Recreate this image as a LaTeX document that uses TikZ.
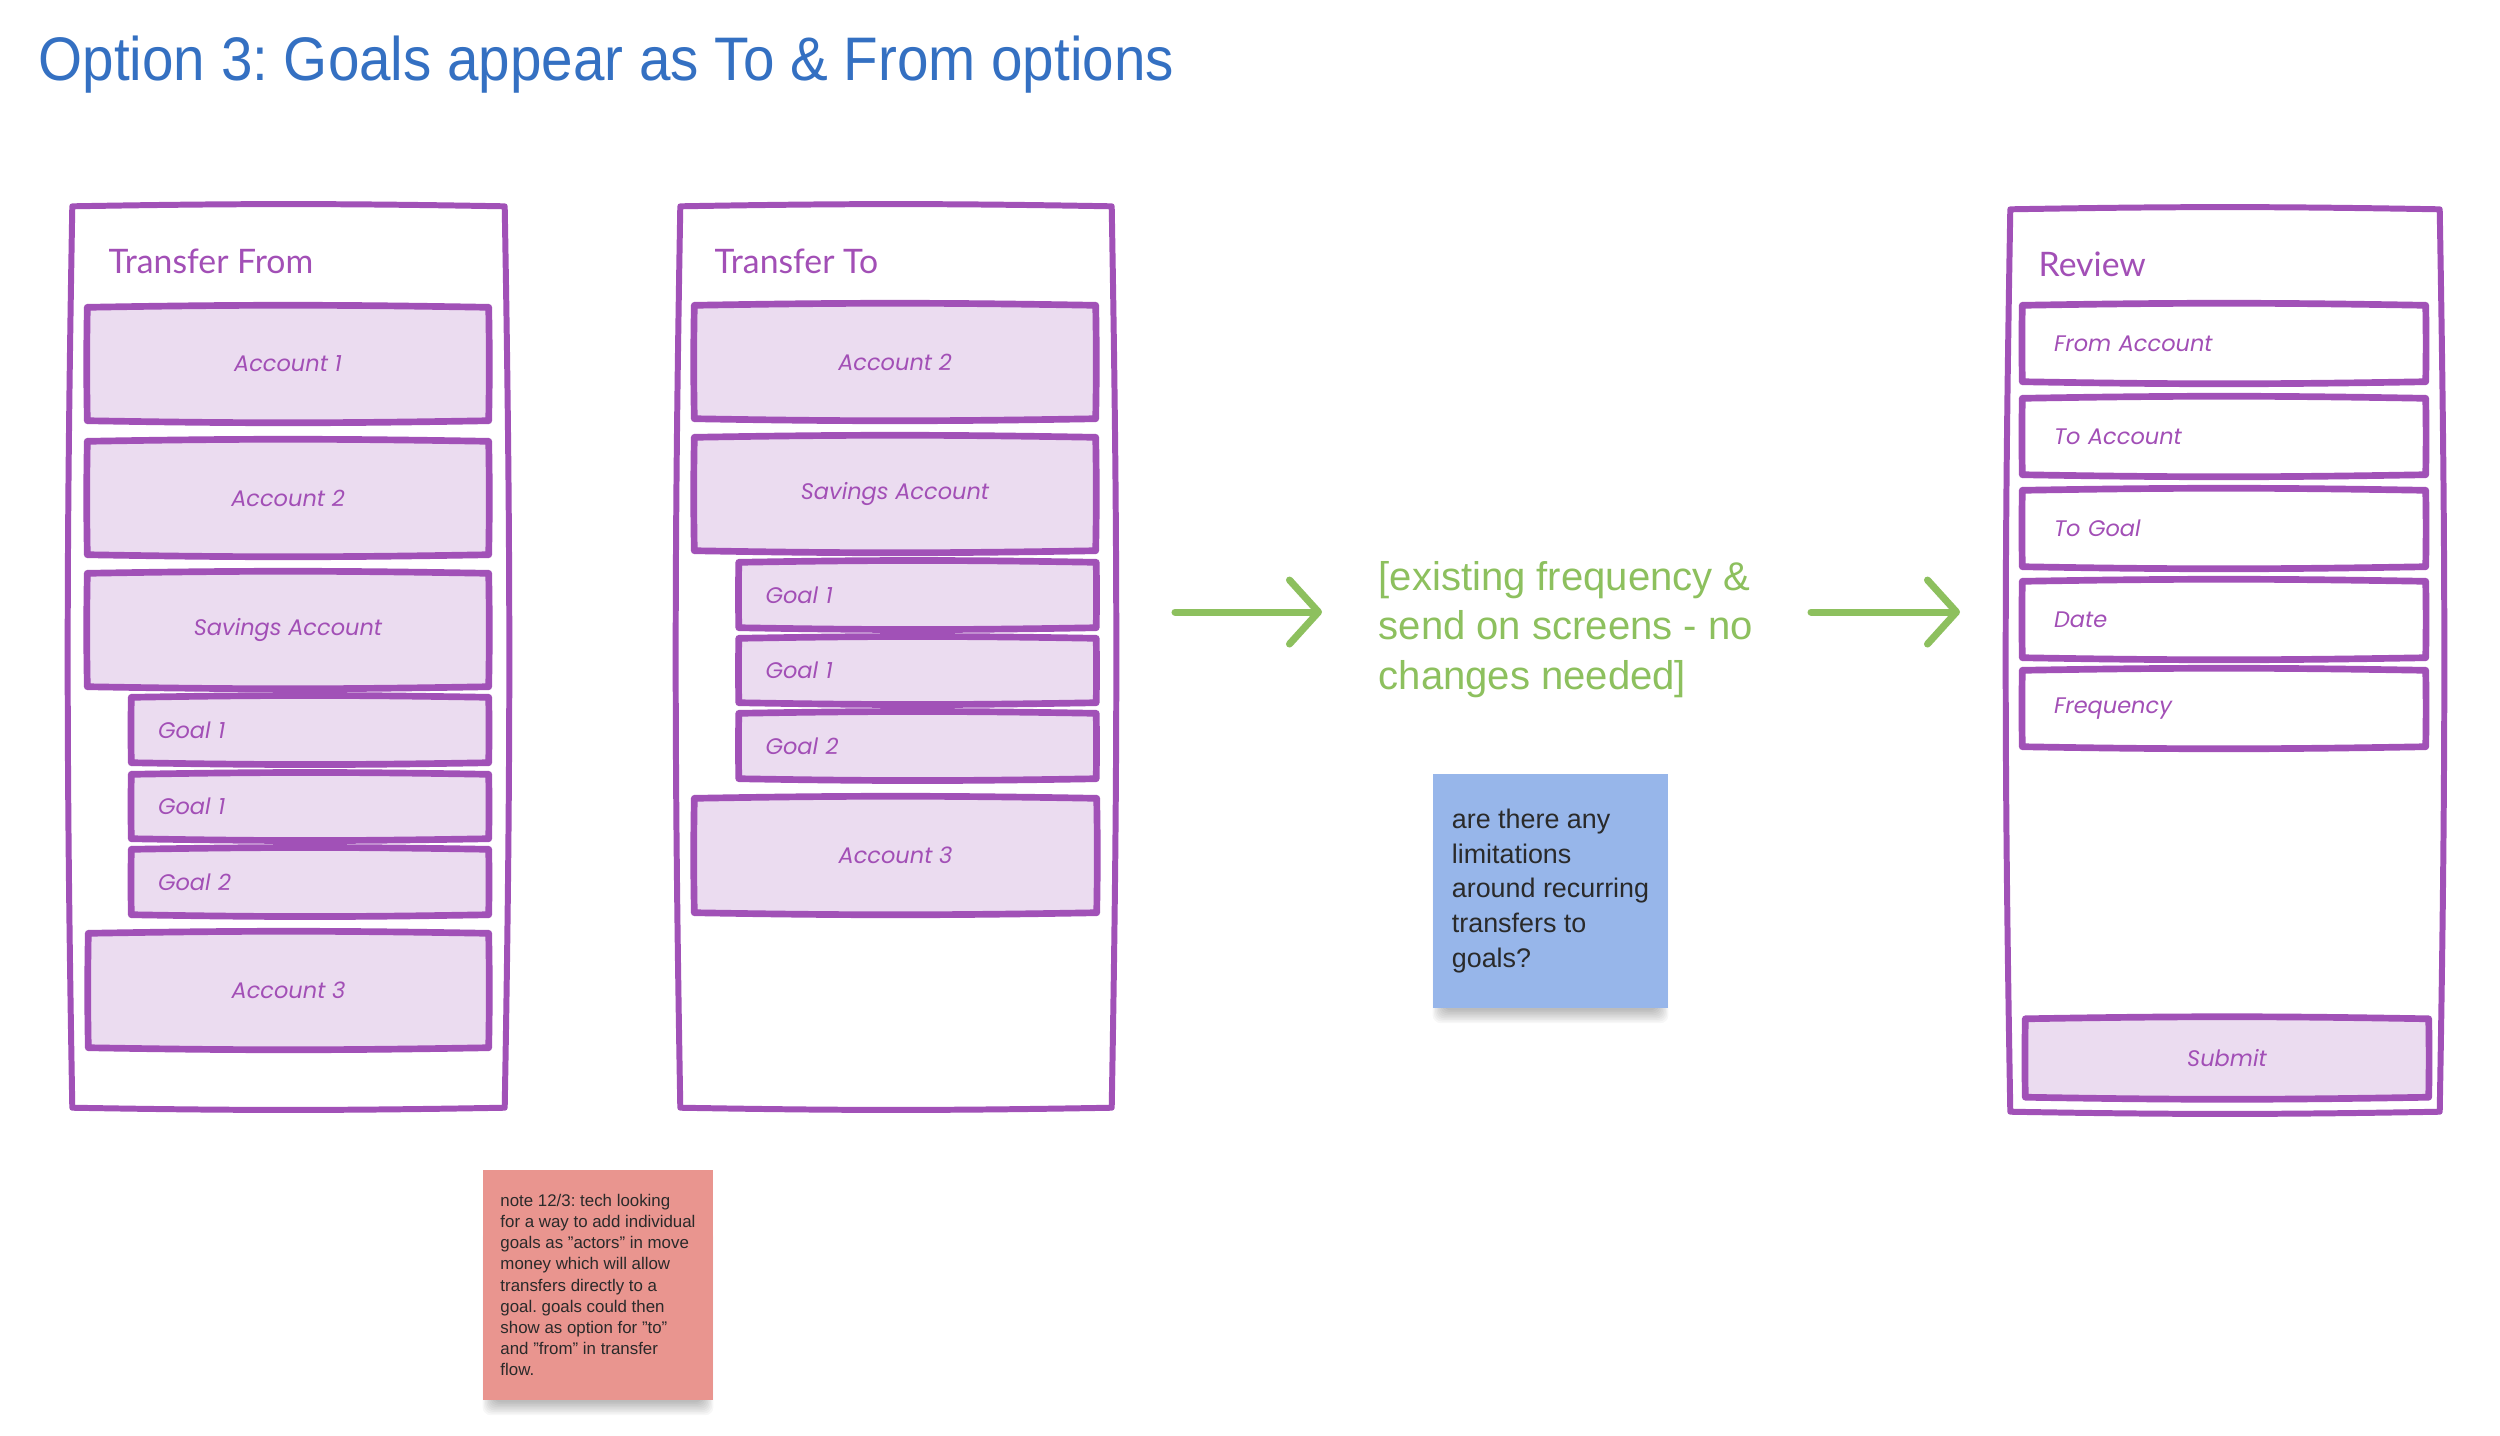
\documentclass[tikz,border=0pt]{standalone}
\usepackage{fontspec}
\setmainfont{Liberation Sans}
\newfontfamily\headfont{Liberation Sans}[FakeStretch=0.92]
\newfontfamily\panelfont{Lato}
\newfontfamily\fieldfont{Poppins}
\usetikzlibrary{arrows.meta}
\frenchspacing

\definecolor{skPurple}{HTML}{A151B7}
\definecolor{skText}{HTML}{A24FB6}
\definecolor{skFill}{HTML}{EBDCF0}
\definecolor{titleBlue}{HTML}{3470C2}
\definecolor{noteGreen}{HTML}{8DC05E}
\definecolor{stickyBlue}{HTML}{97B6EA}
\definecolor{stickyRed}{HTML}{E9958F}
\definecolor{stickyText}{HTML}{2A2A2A}

% sketchy outline around a named node
\newcommand\sketchoutline[2][]{%
  \draw[sketchline,#1] (#2.north west) to[bend left=1] (#2.north east)
    to[bend left=1] (#2.south east) to[bend left=1] (#2.south west)
    to[bend left=1] cycle;}

% soft shadow under a sticky note
\newcommand\softshadow[1]{%
  \foreach \i in {1,...,9}{%
    \fill[black,opacity=0.03,rounded corners=0.8mm]
      ([xshift=1.2mm-\i*0.13mm,yshift=-\i*0.16mm]#1.south west)
      rectangle ([xshift=-1.2mm+\i*0.13mm,yshift=-6mm]#1.north east);}}

\tikzset{
  sketchline/.style={draw=skPurple, line width=1.9pt, line join=round, line cap=round},
  panel/.style={fill=white, inner sep=0pt},
  paneltitle/.style={anchor=base west, inner sep=0pt, text=skText,
    font=\panelfont\fontsize{9.6}{11}\selectfont},
  optionbox/.style={fill=skFill, inner sep=0pt, text=skText,
    font=\fieldfont\itshape\fontsize{6.4}{7.5}\selectfont},
  goalbox/.style={optionbox, inner xsep=2.6mm, text width=30.4mm, align=left,
    minimum width=35.6mm},
  fieldbox/.style={fill=white, inner xsep=3.1mm, inner ysep=0pt, text width=34mm,
    align=left, text=skText, minimum height=7.5mm,
    font=\fieldfont\itshape\fontsize{6.4}{7.5}\selectfont},
  garrow/.style={draw=noteGreen, line width=2pt, line cap=round,
    -{Straight Barb[length=2.9mm,width=6.4mm,round]}},
  sticky/.style={inner sep=0pt, align=left, text=stickyText, anchor=center},
}

\begin{document}
\begin{tikzpicture}[x=0.1mm,y=-0.1mm]
\useasboundingbox (0,0) rectangle (2500,1435);
\fill[white] (0,0) rectangle (2500,1435);

% heading
\node[anchor=base west, inner sep=0pt, text=titleBlue,
  font=\headfont\fontsize{17.5}{20}\selectfont] (title) at (38,80)
  {Option 3: Goals appear as To \& From options};

% ---------- Transfer From screen ----------
\node[panel, minimum width=43.1mm, minimum height=90mm] (pFrom) at (288.5,657) {};
\sketchoutline[line width=1.7pt]{pFrom}
\node[paneltitle] (pFromTitle) at (108,273) {Transfer From};

\node[optionbox, minimum width=40mm, minimum height=11.2mm] (fA1) at (288,364) {Account 1};
\node[optionbox, minimum width=40mm, minimum height=11.2mm] (fA2) at (288,498) {Account 2};
\node[optionbox, minimum width=40mm, minimum height=11.2mm] (fSav) at (288,630) {Savings Account};
\node[goalbox, minimum height=6.4mm] (fG1) at (310,730) {Goal 1};
\node[goalbox, minimum height=6.3mm] (fG2) at (310,806.5) {Goal 1};
\node[goalbox, minimum height=6.4mm] (fG3) at (310,882) {Goal 2};
\node[optionbox, minimum width=39.9mm, minimum height=11.3mm] (fA3) at (288.5,990.5) {Account 3};
\foreach \n in {fA1,fA2,fSav,fG1,fG2,fG3,fA3}{\sketchoutline{\n}}

% ---------- Transfer To screen ----------
\node[panel, minimum width=43mm, minimum height=90mm] (pTo) at (896,657) {};
\sketchoutline[line width=1.7pt]{pTo}
\node[paneltitle] (pToTitle) at (714,273) {Transfer To};

\node[optionbox, minimum width=40mm, minimum height=11.2mm] (tA2) at (895,362) {Account 2};
\node[optionbox, minimum width=40mm, minimum height=11.2mm] (tSav) at (895,494) {Savings Account};
\node[goalbox, minimum width=35.5mm, minimum height=6.4mm] (tG1) at (917.5,595) {Goal 1};
\node[goalbox, minimum width=35.5mm, minimum height=6.3mm] (tG2) at (917.5,670.5) {Goal 1};
\node[goalbox, minimum width=35.5mm, minimum height=6.4mm] (tG3) at (917.5,746) {Goal 2};
\node[optionbox, minimum width=40.1mm, minimum height=11.3mm] (tA3) at (895.5,855.5) {Account 3};
\foreach \n in {tA2,tSav,tG1,tG2,tG3,tA3}{\sketchoutline{\n}}

% ---------- Review screen ----------
\node[panel, minimum width=42.8mm, minimum height=90.1mm] (pRev) at (2225,660.5) {};
\sketchoutline[line width=1.7pt]{pRev}
\node[paneltitle] (pRevTitle) at (2038,276) {Review};

\node[fieldbox] (rFrom) at (2224,343.5) {From Account};
\node[fieldbox] (rTo) at (2224,436.5) {To Account};
\node[fieldbox] (rGoal) at (2224,528.5) {To Goal};
\node[fieldbox] (rDate) at (2224,619.5) {Date};
\node[fieldbox] (rFreq) at (2224,708.5) {Frequency};
\node[optionbox, minimum width=40.2mm, minimum height=7.7mm] (rSubmit) at (2227,1058) {Submit};
\foreach \n in {rFrom,rTo,rGoal,rDate,rFreq,rSubmit}{\sketchoutline{\n}}

% ---------- flow between screens ----------
\node[anchor=base west, inner sep=0pt, align=left, text=noteGreen,
  font=\fontsize{11.4}{14}\selectfont] (gNote) at (1378,689)
  {[existing frequency \&\\send on screens - no\\changes needed]};

\coordinate (a1s) at (1175,612);
\coordinate (a1e) at (1322,612);
\coordinate (a2s) at (1811,612);
\coordinate (a2e) at (1960,612);
\draw[garrow] (a1s) -- (a1e);
\draw[garrow] (a2s) -- (a2e);

% ---------- sticky notes ----------
\coordinate (qNoteC) at (1550.5,891);
\coordinate (techNoteC) at (598,1285);
\path (qNoteC) node[minimum width=23.5mm, minimum height=23.4mm, inner sep=0pt] (qBase) {};
\path (techNoteC) node[minimum width=23mm, minimum height=23mm, inner sep=0pt] (techBase) {};
\softshadow{qBase}
\softshadow{techBase}

\node[sticky, fill=stickyBlue, minimum width=23.5mm, minimum height=23.4mm,
  font=\fontsize{7.65}{9.9}\selectfont] (qNote) at (qNoteC)
  {are there any\\limitations\\around recurring\\transfers to\\goals?};

\node[sticky, fill=stickyRed, minimum width=23mm, minimum height=23mm,
  font=\fontsize{4.8}{6.04}\selectfont] (techNote) at (techNoteC)
  {note 12/3: tech looking\\for a way to add individual\\goals as "actors" in move\\money which will allow\\transfers directly to a\\goal. goals could then\\show as option for "to"\\and "from" in transfer\\flow.};
\end{tikzpicture}
\end{document}
